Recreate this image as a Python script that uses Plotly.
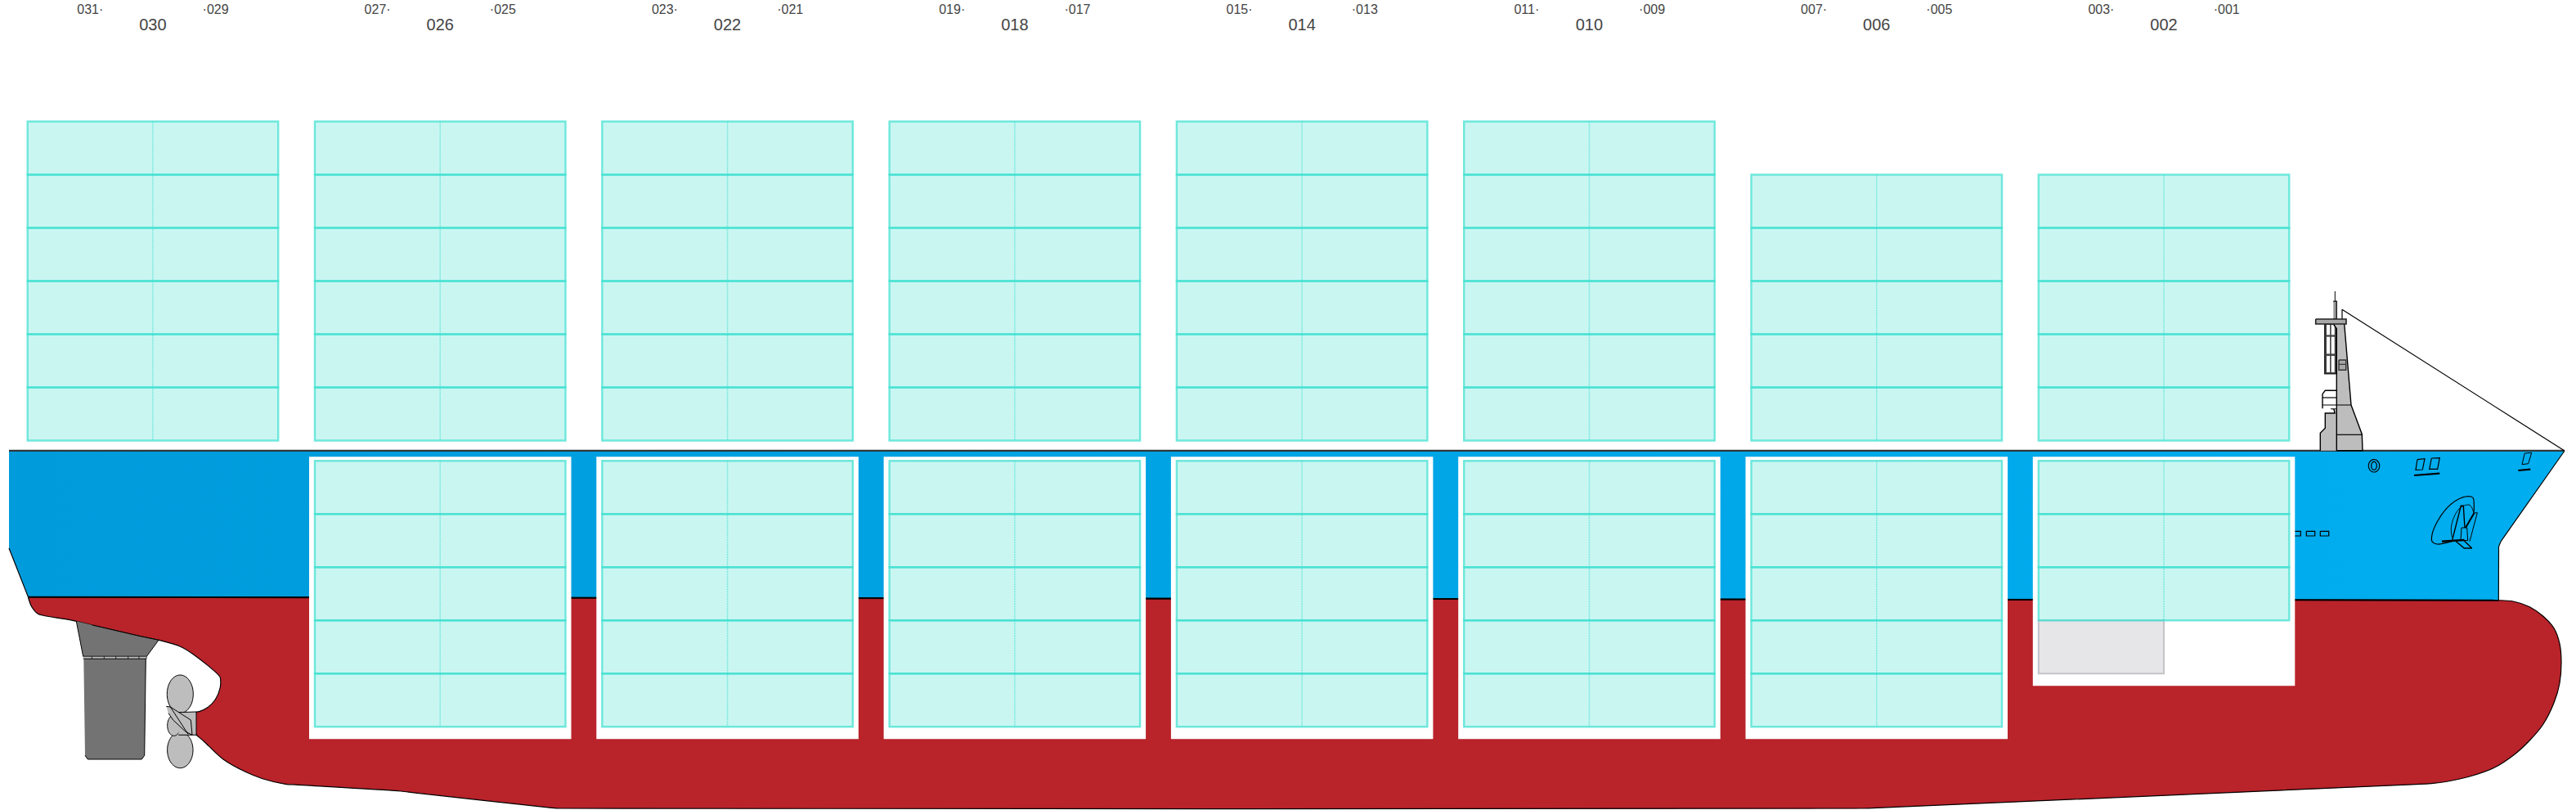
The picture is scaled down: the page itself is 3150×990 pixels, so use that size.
import numpy as np
import plotly.graph_objects as go

# container bays, bow is on the right
bay_labels = ["030", "026", "022", "018", "014", "010", "006", "002"]
aft_labels = ["031·", "027·", "023·", "019·", "015·", "011·", "007·", "003·"]
fwd_labels = ["·029", "·025", "·021", "·017", "·013", "·009", "·005", "·001"]
bay_centers = [186.95, 538.25, 889.55, 1240.85, 1592.15, 1943.45, 2294.75, 2646.05]
deck_tiers = [6, 6, 6, 6, 6, 6, 5, 5]
hold_tiers = [0, 5, 5, 5, 5, 5, 5, 3]
hold_bottoms = [None, 903.3, 903.3, 903.3, 903.3, 903.3, 903.3, 838.3]

BAY_W = 306.5
TIER_H = 65
DECK_STACK_BOTTOM = 538.5
HOLD_STACK_TOP = 563.3
HOLD_TOP = 558.3
HOLD_W = 320.5

# hull outlines, traced in page pixels
blue_x = [11, 3136, 3061.7, 3058, 3055.5, 3055.3, 34.4, 11]
blue_y = [551, 551, 656.7, 662, 668, 733.7, 729.5, 670]
red_x = [34.4, 36, 39, 46, 54, 80, 93.3, 113, 170, 194, 220, 236.7, 268.8, 269.6, 269.3, 263.3, 253.3,
         243, 240.7, 240, 240, 240.5, 250, 273.3, 300, 321, 349, 362, 486.7, 500, 670, 682, 683, 2280, 2290,
         2960, 2973.3, 2993.3, 3020, 3050, 3073.3, 3093.3, 3110, 3123.3, 3130, 3132, 3130, 3123.3, 3110,
         3093.3, 3073.3, 3055, 3054, 3030, 60, 36]
red_y = [729.5, 735, 742, 750, 752.5, 756.7, 759.3, 764, 777.3, 782.3, 790, 800, 827, 830, 840, 855, 865,
         869.8, 870, 870.5, 898, 898.5, 906.7, 928.3, 943.3, 951.7, 958.3, 959.2, 966.7, 968.2, 986.9, 988, 988,
         988, 987.6, 958.4, 957.7, 955, 949, 938.3, 923.3, 905, 885, 858.3, 835, 808.3, 786.7, 768.3, 753.3,
         741.7, 735, 733.7, 733.7, 733.65, 729.7, 729.5]
horn_x = [93.3, 101.7, 179.3, 194, 170, 113]
horn_y = [759.3, 802.3, 802.3, 782.3, 777.3, 764]
rudder_x = [102.3, 178.3, 176.7, 173.3, 107.3, 104]
rudder_y = [805, 805, 923.3, 928, 928, 923.3]
rudder_ticks = [112.3, 127.3, 141.7, 156.7, 170]

hub_x = [218.3, 240, 240, 218.3]
hub_y = [870.7, 870, 898.3, 898.3]
blade_x = [203.3, 208.3, 233.3, 235, 226.7, 211.7, 206]
blade_y = [863.3, 864, 880, 898.3, 894, 880, 871.7]

mast_x = [2853.3, 2857.3, 2857.3, 2889, 2888.3, 2875, 2866.7]
mast_y = [396, 401.7, 550.7, 550.7, 530.7, 495, 396]
mast_foot_x = [2837.3, 2837.3, 2843.3, 2843.3, 2855, 2854, 2850, 2857.3, 2857.3]
mast_foot_y = [550.7, 529.3, 523.3, 505, 505, 500, 499.3, 499.3, 550.7]
canopy_x = [2840, 2840, 2843.3, 2857.3, 2857.3]
canopy_y = [499.3, 481.7, 477.3, 477.3, 499.3]

anchor_recess_x = [2998.3, 2980, 2974, 2974, 2980, 2990, 3003.3, 3018.3, 3024, 3025.3, 3025]
anchor_recess_y = [661.7, 665, 661.7, 653.3, 638.3, 623.3, 611.7, 606.7, 608.3, 616.7, 626.7]
anchor_arc_x = [2998.3, 2997.3, 3001.7, 3009.3, 3020, 3025]
anchor_arc_y = [656.7, 645, 630, 620, 617.3, 626.7]

BLACK = "#000000"
MAST_GREY = "#bdbdbd"
RUDDER_GREY = "#737373"
TURQ_FILL = "rgba(64,224,208,0.28)"
TURQ_LINE = "rgba(64,224,208,0.72)"


def poly(x, y, fill=None, color=BLACK, width=1.0, spline=False):
    line = dict(color=color, width=width, shape="spline" if spline else "linear", simplify=False)
    return go.Scatter(x=x, y=y, mode="lines", line=line, fill="toself" if fill else None,
                      fillcolor=fill, hoverinfo="skip", showlegend=False)


def seg(x, y, width=1.0, color=BLACK):
    return poly(x, y, width=width, color=color)


def ellipse(cx, cy, rx, ry):
    t = np.linspace(0, 2 * np.pi, 60)
    return cx + rx * np.cos(t), cy + ry * np.sin(t)


fig = go.Figure()

# hull
blue = poly(blue_x, blue_y, fill="#00aeef", width=1.2)
blue.fillgradient = dict(type="horizontal", colorscale=[[0, "#009bdb"], [1, "#00aeef"]])
fig.add_trace(blue)
for rx0, rx1 in [(2803, 2813.3), (2820.3, 2830.7), (2837.3, 2847.7)]:
    fig.add_trace(seg([rx0, rx1, rx1, rx0, rx0], [649.3, 649.3, 655, 655, 649.3], 1.2))
fig.add_trace(poly(red_x, red_y, fill="#b9232a", width=1.2, spline=True))
fig.add_trace(seg([34.4, 3055.3], [729.8, 733.7], 2))
fig.add_trace(seg([11, 3136], [550.7, 550.7], 2, "#333333"))

# rudder
fig.add_trace(poly(horn_x, horn_y, fill=RUDDER_GREY))
fig.add_trace(poly(rudder_x, rudder_y, fill=RUDDER_GREY))
fig.add_trace(poly([101.7, 179.3, 179.3, 101.7], [802.3, 802.3, 805, 805], fill=MAST_GREY, width=0.6))
for tx in rudder_ticks:
    fig.add_trace(seg([tx, tx], [802.3, 805], 0.8))

# propeller
for cx, cy, rx, ry in [(220.3, 916.7, 15.7, 22), (220.3, 848.3, 16, 23.3), (212.7, 886.7, 8, 12.7)]:
    ex, ey = ellipse(cx, cy, rx, ry)
    fig.add_trace(poly(ex, ey, fill=MAST_GREY))
fig.add_trace(poly(hub_x, hub_y, fill=MAST_GREY))
fig.add_trace(poly(blade_x, blade_y, fill=MAST_GREY))
fig.add_trace(seg([208.3, 230], [864, 897.3]))

# forestay and mast
fig.add_trace(seg([2864, 2864, 3136], [390, 378.3, 551], 1.2))
fig.add_trace(seg([2855.3, 2855.3], [356, 368.3], 1.0))
fig.add_trace(poly([2853.3, 2857.3, 2857.3, 2853.3], [368.3, 368.3, 390, 390], fill="#999999", color="#222222", width=1.4))
fig.add_trace(poly([2842.7, 2857.3, 2857.3, 2842.7, 2842.7], [396, 396, 456.7, 456.7, 396], fill="#444444", color="#222222", width=1.4))
for wx0, wx1 in [(2845, 2849), (2850.7, 2854.7)]:
    for wy0, wy1 in [(397, 409.3), (411.7, 432.3), (435, 455)]:
        fig.add_trace(poly([wx0, wx1, wx1, wx0], [wy0, wy0, wy1, wy1], fill="#ffffff", color="#ffffff", width=0.1))
fig.add_trace(poly(mast_x, mast_y, fill=MAST_GREY, width=1.4))
fig.add_trace(poly(mast_foot_x, mast_foot_y, fill=MAST_GREY, width=1.4))
fig.add_trace(poly(canopy_x, canopy_y, fill="#ffffff", width=1.4))
fig.add_trace(seg([2840, 2857.3], [486, 486], 1.2))
fig.add_trace(seg([2840, 2875], [495, 495], 1.2))
fig.add_trace(seg([2857.3, 2888.3], [531.3, 531.3], 1.2))
fig.add_trace(poly([2831.7, 2869, 2869, 2831.7, 2831.7], [390, 390, 396, 396, 390], fill="#a8a8a8", color="#222222", width=1.6))
fig.add_trace(poly([2860, 2868.7, 2868.7, 2860, 2860], [440, 440, 452.3, 452.3, 440], fill="#a8a8a8", color="#333333", width=1.4))
fig.add_trace(seg([2860, 2868.7], [445.3, 445.3], 1.2, "#333333"))

# deck fittings on the bow
for rx, ry in [(6.7, 7.7), (3.3, 5)]:
    ex, ey = ellipse(2903, 569.3, rx, ry)
    fig.add_trace(seg(ex, ey, 1.2))
fig.add_trace(seg([2956, 2965, 2962.3, 2954, 2956], [561.7, 560.7, 574, 574.3, 561.7], 1.2))
fig.add_trace(seg([2973.3, 2983.3, 2980.7, 2970.7, 2973.3], [560, 559.7, 573.3, 573.3, 560], 1.2))
fig.add_trace(seg([2952, 2983.3], [581, 578.7], 2.2))
fig.add_trace(seg([3087.3, 3095.7, 3091.7, 3084, 3087.3], [554, 553.3, 566.7, 567.7, 554], 1.0))
fig.add_trace(seg([3079.3, 3094.3], [575, 573.7], 2.2))

# anchor
fig.add_trace(poly(anchor_recess_x, anchor_recess_y, color=BLACK, width=1.2, spline=True))
fig.add_trace(poly(anchor_arc_x, anchor_arc_y, color=BLACK, width=0.9, spline=True))
fig.add_trace(seg([2998.3, 3009.3, 3012.3, 3014], [661.7, 618.3, 618.3, 645], 1.4))
fig.add_trace(seg([3025.5, 3015], [627, 645], 2))
fig.add_trace(seg([3029.3, 3020], [626.7, 661.7], 1.0))
fig.add_trace(seg([3025.5, 3029.3], [627, 626.7], 1.0))
fig.add_trace(seg([3010, 3016.7, 3017.7, 3009, 3010], [645, 645, 660.7, 660, 645], 1.0))
fig.add_trace(seg([2986, 3013.3], [661.7, 660], 2.4))
fig.add_trace(seg([3003.3, 3013.3, 3022.7, 3013.3], [661.7, 670, 670, 661], 1.4))

# bay labels
label_x, label_y, label_text = [], [], []
for c, mid, aft, fwd in zip(bay_centers, bay_labels, aft_labels, fwd_labels):
    label_x += [c - BAY_W / 4, c + BAY_W / 4]
    label_y += [13.3, 13.3]
    label_text += [aft, fwd]
fig.add_trace(go.Scatter(x=label_x, y=label_y, text=label_text, mode="text", hoverinfo="skip", showlegend=False,
                         textfont=dict(family="Liberation Sans", size=16, color="#444444")))
fig.add_trace(go.Scatter(x=bay_centers, y=[31.7] * len(bay_centers), text=bay_labels, mode="text", hoverinfo="skip",
                         showlegend=False, textfont=dict(family="Liberation Sans", size=20, color="#444444")))

# holds and containers sit on an overlay axis so the bars paint over the hull
hold_x = [c for c, b in zip(bay_centers, hold_bottoms) if b is not None]
hold_h = [b - HOLD_TOP for b in hold_bottoms if b is not None]
fig.add_trace(go.Bar(x=hold_x, base=[HOLD_TOP] * len(hold_x), y=hold_h,
                     width=HOLD_W, marker=dict(color="#ffffff", line=dict(width=0)),
                     hoverinfo="skip", showlegend=False, xaxis="x2", yaxis="y2"))
# the one empty slot in bay 002
fig.add_trace(go.Bar(x=[bay_centers[7] - BAY_W / 4], base=[758.3], y=[TIER_H], width=BAY_W / 2,
                     marker=dict(color="#e6e6e8", line=dict(color="#c4c4c8", width=2)),
                     hoverinfo="skip", showlegend=False, xaxis="x2", yaxis="y2"))

cell_x, cell_base = [], []
div_x, div_y = [], []
for c, deck, hold in zip(bay_centers, deck_tiers, hold_tiers):
    deck_top = DECK_STACK_BOTTOM - deck * TIER_H
    for t in range(deck):
        cell_x.append(c)
        cell_base.append(deck_top + t * TIER_H)
    for t in range(hold):
        cell_x.append(c)
        cell_base.append(HOLD_STACK_TOP + t * TIER_H)
    div_x += [c, c, None]
    div_y += [deck_top, DECK_STACK_BOTTOM, None]
    if hold:
        div_x += [c, c, None]
        div_y += [HOLD_STACK_TOP, HOLD_STACK_TOP + hold * TIER_H, None]

fig.add_trace(go.Bar(x=cell_x, base=cell_base, y=[TIER_H] * len(cell_x), width=BAY_W,
                     marker=dict(color=TURQ_FILL, line=dict(color=TURQ_LINE, width=2.4)),
                     hoverinfo="skip", showlegend=False, xaxis="x2", yaxis="y2"))
fig.add_trace(go.Scatter(x=div_x, y=div_y, mode="lines", hoverinfo="skip", showlegend=False,
                         line=dict(color="rgba(64,224,208,0.6)", width=1.5, dash="2px,1px"),
                         xaxis="x2", yaxis="y2"))

axis = dict(visible=False, fixedrange=True)
fig.update_layout(
    width=3150, height=990,
    margin=dict(l=0, r=0, t=0, b=0),
    paper_bgcolor="#ffffff", plot_bgcolor="#ffffff",
    barmode="overlay", showlegend=False,
    xaxis=dict(range=[0, 3150], **axis),
    yaxis=dict(range=[990, 0], **axis),
    xaxis2=dict(range=[0, 3150], overlaying="x", **axis),
    yaxis2=dict(range=[990, 0], overlaying="y", **axis),
)

fig.write_html("out.html", config={"displayModeBar": False},
               post_script="document.body.style.margin='0';")
